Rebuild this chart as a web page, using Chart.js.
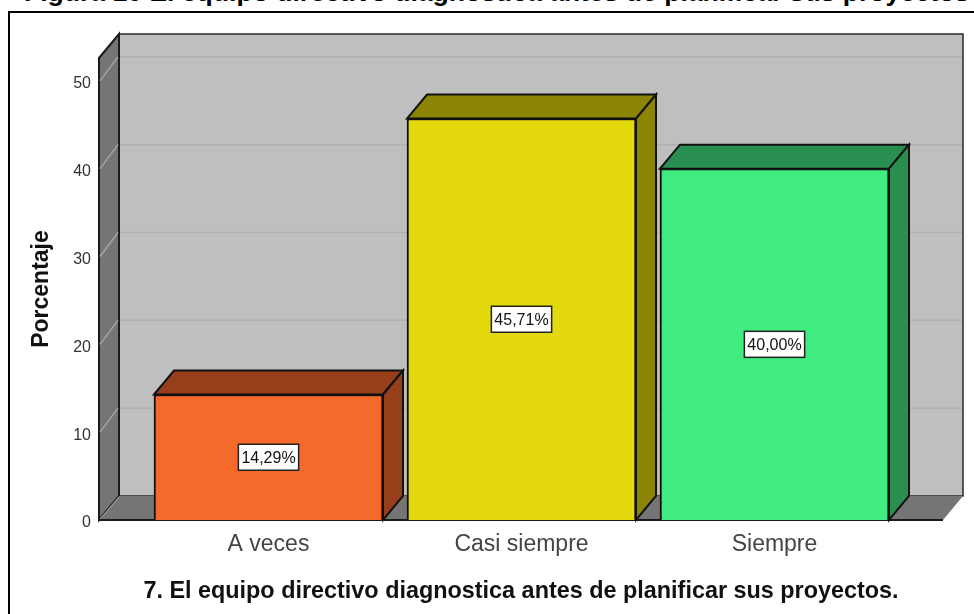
<!DOCTYPE html>
<html>
<head>
<meta charset="utf-8">
<style>
  html, body { margin: 0; background: #fff; overflow: hidden; }
  #wrap { position: relative; width: 974px; height: 614px; overflow: hidden; }
  #fig-title { position: absolute; left: 24px; top: -23px; white-space: nowrap; font: bold 26.55px "Liberation Sans", sans-serif; color: #000; }
  #frame { position: absolute; left: 8px; top: 11px; width: 980px; height: 620px; border: 2px solid #000; box-sizing: border-box; }
  canvas { position: absolute; left: 0; top: 0; }
</style>
<script src="https://cdn.jsdelivr.net/npm/chart.js@4/dist/chart.umd.js"></script>
</head>
<body>
<div id="wrap">
  <div id="fig-title">Figura 10 El equipo directivo diagnostica antes de planificar sus proyectos</div>
  <div id="frame"></div>
  <canvas id="chart" width="974" height="614"></canvas>
</div>
<script>
// values
const categories = ["A veces", "Casi siempre", "Siempre"];
const positions = [0, 1, 2];
const percentages = [14.29, 45.71, 40.0];
const valueLabels = ["14,29%", "45,71%", "40,00%"];
const frontColors = ["#f56a2a", "#e4d90c", "#40ec80"];
const sideColors = ["#963f1a", "#8c8405", "#288f50"];
const yTicks = [0, 10, 20, 30, 40, 50];
const xTitle = "7. El equipo directivo diagnostica antes de planificar sus proyectos.";
const yTitle = "Porcentaje";

// depth of the fake 3D box, in pixels
const DX = 20, DY = -24;
const FONT = '"Liberation Sans", Arial, sans-serif';

function poly(ctx, pts, fill, stroke, lw) {
  ctx.beginPath();
  pts.forEach((p, i) => (i ? ctx.lineTo(p[0], p[1]) : ctx.moveTo(p[0], p[1])));
  ctx.closePath();
  if (fill) { ctx.fillStyle = fill; ctx.fill(); }
  if (stroke) { ctx.strokeStyle = stroke; ctx.lineWidth = lw; ctx.lineJoin = "miter"; ctx.stroke(); }
}

// back wall, side wall, floor and their grid lines
const roomPlugin = {
  id: "room",
  beforeDatasetsDraw(chart) {
    const { ctx, chartArea: a, scales: { y } } = chart;
    const bx = a.left + DX, by = a.top + DY, fy = a.bottom + DY;
    ctx.save();
    poly(ctx, [[bx, by], [a.right + DX, by], [a.right + DX, fy], [bx, fy]], "#bfbfbf", "#2a2a2a", 1.5);
    poly(ctx, [[a.left, a.top], [bx, by], [bx, fy], [a.left, a.bottom]], "#757575", "#1a1a1a", 2);
    poly(ctx, [[a.left, a.bottom], [bx, fy], [a.right + DX, fy], [a.right, a.bottom]], "#757575", null);
    ctx.strokeStyle = "#1a1a1a";
    ctx.lineWidth = 2;
    ctx.beginPath();
    ctx.moveTo(a.left, a.bottom);
    ctx.lineTo(a.right, a.bottom);
    ctx.stroke();
    yTicks.slice(1).forEach((v) => {
      const py = y.getPixelForValue(v);
      ctx.lineWidth = 1.5;
      ctx.strokeStyle = "#b0b0b0";
      ctx.beginPath();
      ctx.moveTo(bx + 1, py + DY);
      ctx.lineTo(a.right + DX - 1, py + DY);
      ctx.stroke();
      ctx.strokeStyle = "#a3a3a3";
      ctx.beginPath();
      ctx.moveTo(a.left + 1, py);
      ctx.lineTo(bx - 1, py + DY);
      ctx.stroke();
    });
    ctx.strokeStyle = "#a3a3a3";
    ctx.lineWidth = 1;
    ctx.beginPath();
    ctx.moveTo(a.left + 1, a.bottom - 1);
    ctx.lineTo(bx, fy + 1);
    ctx.stroke();
    ctx.restore();
  },
  // bar sides, tops and the value boxes
  afterDatasetsDraw(chart) {
    const ctx = chart.ctx;
    ctx.save();
    chart.getDatasetMeta(0).data.forEach((bar, i) => {
      const l = bar.x - bar.width / 2, r = bar.x + bar.width / 2, t = bar.y, b = bar.base;
      poly(ctx, [[l, t], [l + DX, t + DY], [r + DX, t + DY], [r, t]], sideColors[i], "#111", 2);
      poly(ctx, [[r, t], [r + DX, t + DY], [r + DX, b + DY], [r, b]], sideColors[i], "#111", 2);
      const cy = (t + b) / 2;
      ctx.font = "16px " + FONT;
      const w = ctx.measureText(valueLabels[i]).width + 6;
      ctx.fillStyle = "#fff";
      ctx.fillRect(bar.x - w / 2, cy - 13, w, 26);
      ctx.strokeStyle = "#222";
      ctx.lineWidth = 1.5;
      ctx.strokeRect(bar.x - w / 2, cy - 13, w, 26);
      ctx.fillStyle = "#111";
      ctx.textAlign = "center";
      ctx.textBaseline = "middle";
      ctx.fillText(valueLabels[i], bar.x, cy + 1);
    });
    ctx.restore();
  },
};

new Chart(document.getElementById("chart"), {
  type: "bar",
  data: {
    datasets: [{
      data: positions.map((x, i) => ({ x, y: percentages[i] })),
      backgroundColor: frontColors,
      borderColor: "#111",
      borderWidth: 2,
      barThickness: 229,
    }],
  },
  options: {
    responsive: false,
    animation: false,
    layout: { padding: { top: 58, right: 31, left: 0, bottom: 0 } },
    plugins: { legend: { display: false }, tooltip: { enabled: false } },
    scales: {
      x: {
        type: "linear",
        offset: false,
        min: -0.67,
        max: 2.666,
        afterFit: (s) => { s.height = 94; },
        grid: { display: false, drawTicks: false },
        border: { display: false },
        ticks: {
          stepSize: 1,
          includeBounds: false,
          maxRotation: 0,
          padding: 11,
          color: "#444",
          font: { family: FONT, size: 23 },
          callback: (v) => categories[v] || "",
        },
        title: { display: true, text: xTitle, color: "#111", font: { family: FONT, size: 23.4, weight: "bold" }, padding: { top: 12, bottom: 8 } },
      },
      y: {
        min: 0,
        max: 52.6,
        afterFit: (s) => { s.width = 99; },
        grid: { display: false, drawTicks: false },
        border: { display: false },
        ticks: {
          stepSize: 10,
          includeBounds: false,
          padding: 8,
          labelOffset: 3,
          color: "#333",
          font: { family: FONT, size: 16 },
        },
        title: { display: true, text: yTitle, color: "#111", font: { family: FONT, size: 23, weight: "bold" }, padding: { top: 28, bottom: 0 } },
      },
    },
  },
  plugins: [roomPlugin],
});
</script>
</body>
</html>
